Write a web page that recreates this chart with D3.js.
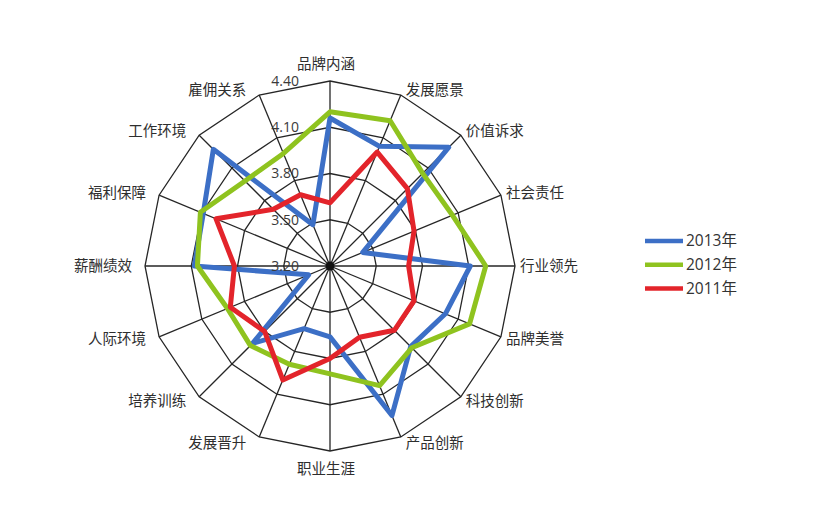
<!DOCTYPE html>
<html>
<head>
<meta charset="utf-8">
<script src="https://cdn.jsdelivr.net/npm/d3@7"></script>
<style>
  html, body { margin: 0; padding: 0; background: #fff; }
  svg { display: block; }
</style>
</head>
<body>
<svg id="chart" width="817" height="516"></svg>
<script>
const categories = ["品牌内涵","发展愿景","价值诉求","社会责任","行业领先","品牌美誉","科技创新","产品创新",
                    "职业生涯","发展晋升","培养训练","人际环境","薪酬绩效","福利保障","工作环境","雇佣关系"];
const values2013 = [4.16, 4.04, 4.29, 3.43, 4.11, 4.01, 3.94, 4.25, 3.66, 3.64, 3.91, 3.35, 4.08, 4.09, 4.27, 3.49];
const values2012 = [4.20, 4.22, 4.05, 4.06, 4.21, 4.18, 3.95, 4.04, 3.90, 3.89, 3.93, 3.92, 4.06, 4.11, 3.98, 3.99];
const values2011 = [3.61, 4.00, 3.91, 3.79, 3.71, 3.79, 3.79, 3.70, 3.80, 4.00, 3.80, 3.90, 3.82, 4.00, 3.72, 3.70];
const tickValues = [3.20, 3.50, 3.80, 4.10, 4.40];
const seriesNames = ["2013年", "2012年", "2011年"];

const series = [
  { name: seriesNames[0], values: values2013, color: "#3c6fc6" },
  { name: seriesNames[1], values: values2012, color: "#8fc31f" },
  { name: seriesNames[2], values: values2011, color: "#e3242b" }
];

const cx = 330, cy = 266, R = 185;
const svg = d3.select("#chart");
svg.append("rect").attr("width", 817).attr("height", 516).attr("fill", "#fff");
const g = svg.append("g").attr("transform", `translate(${cx},${cy})`);

const r = d3.scaleLinear().domain([tickValues[0], tickValues[tickValues.length - 1]]).range([0, R]);
const angle = d3.scalePoint().domain(d3.range(categories.length + 1)).range([0, 2 * Math.PI]);
const ang = i => angle(i);

const ringLine = d3.lineRadial().angle((d, i) => ang(i)).radius(d => r(d)).curve(d3.curveLinearClosed);

// grid rings
tickValues.slice(1).forEach(t => {
  g.append("path")
    .attr("d", ringLine(categories.map(() => t)))
    .attr("fill", "none").attr("stroke", "#262626").attr("stroke-width", 1.3);
});

// spokes
categories.forEach((c, i) => {
  const a = ang(i);
  g.append("line")
    .attr("x1", 0).attr("y1", 0)
    .attr("x2", R * Math.sin(a)).attr("y2", -R * Math.cos(a))
    .attr("stroke", "#262626").attr("stroke-width", 1.3);
});
g.append("circle").attr("r", 4.5).attr("fill", "#111");

// series
series.forEach(s => {
  g.append("path")
    .attr("d", ringLine(s.values))
    .attr("fill", "none")
    .attr("stroke", s.color)
    .attr("stroke-width", 5)
    .attr("stroke-linejoin", "round");
});

// tick labels
g.selectAll("text.tick").data(tickValues).join("text")
  .attr("class", "tick")
  .attr("x", -31)
  .attr("y", d => -r(d))
  .attr("dy", "0.35em")
  .attr("text-anchor", "end")
  .attr("font-family", "'Open Sans', 'Liberation Sans', sans-serif")
  .attr("font-size", 14)
  .attr("fill", "#3a3a3a")
  .text(d => d.toFixed(2));

// category labels
categories.forEach((c, i) => {
  const a = ang(i);
  const s = Math.sin(a), co = Math.cos(a);
  const vx = R * s, vy = -R * co;
  let x, y, anchor;
  if (Math.abs(s) < 0.1) {
    anchor = "middle";
    x = vx - 4;
    y = vy + (co > 0 ? -17.5 : 17.5);
  } else if (s > 0) {
    anchor = "start";
    x = vx + 5;
    y = vy - 6 * co;
  } else {
    anchor = "end";
    x = vx - 13;
    y = vy - 6 * co;
  }
  g.append("text")
    .attr("x", x).attr("y", y)
    .attr("dy", "0.35em")
    .attr("text-anchor", anchor)
    .attr("font-family", "'Noto Sans CJK SC', sans-serif")
    .attr("font-size", 14.5)
    .attr("fill", "#2e2e2e")
    .text(c);
});

// legend
const legend = svg.append("g").attr("transform", "translate(645,241)");
series.forEach((s, i) => {
  const row = legend.append("g").attr("transform", `translate(0,${i * 23.8})`);
  row.append("line").attr("x1", 0).attr("x2", 38).attr("y1", 0).attr("y2", 0)
    .attr("stroke", s.color).attr("stroke-width", 4.5);
  row.append("text").attr("x", 41).attr("y", 0).attr("dy", "0.35em")
    .attr("font-family", "'Open Sans', 'Noto Sans CJK SC', sans-serif")
    .attr("font-size", 15.5).attr("fill", "#333")
    .text(s.name);
});
</script>
</body>
</html>
